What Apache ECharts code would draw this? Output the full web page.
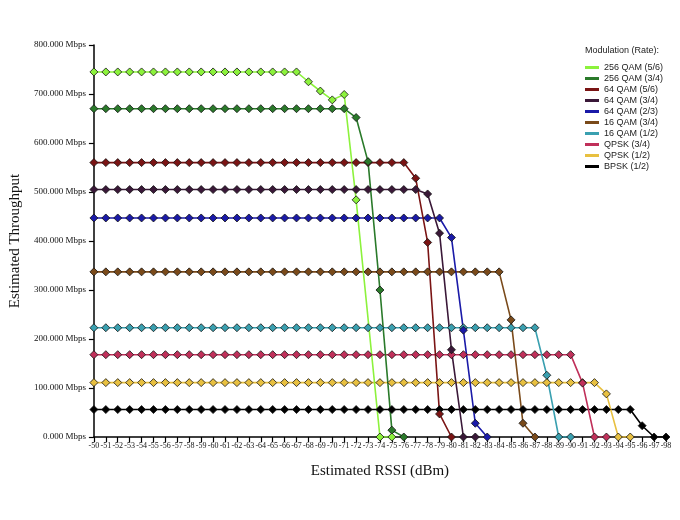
<!DOCTYPE html>
<html>
<head>
<meta charset="utf-8">
<script src="https://cdn.jsdelivr.net/npm/echarts@6/dist/echarts.min.js"></script>
<style>html,body{margin:0;padding:0;background:#fff}#c{width:680px;height:520px}</style>
</head>
<body>
<div id="c"></div>
<script>
// RSSI categories -50 .. -98
var rssi = [];
for (var r = -50; r >= -98; r--) rssi.push(String(r));

function flat(v, n) { var a = []; for (var i = 0; i < n; i++) a.push(v); return a; }

// throughput (Mbps) per modulation, index 0 = -50 dBm
var qam256_56 = flat(745, 18).concat([725, 706, 688, 699, 484, null, 0, 0]);
var qam256_34 = flat(670, 22).concat([652, 562, 300, 14, 0]);
var qam64_56 = flat(560, 27).concat([528, 397, 47, 0]);
var qam64_34 = flat(505, 28).concat([496, 416, 178, 0, 0]);
var qam64_23 = flat(447, 30).concat([407, 218, 28, 0]);
var qam16_34 = flat(337, 35).concat([239, 28, 0]);
var qam16_12 = flat(223, 38).concat([126, 0, 0]);
var qpsk_34 = flat(168, 41).concat([110, 0, 0]);
var qpsk_12 = flat(111, 43).concat([88, 0, 0]);
var bpsk_12 = flat(56, 46).concat([23, 0, 0]);

var names = ['256 QAM (5/6)', '256 QAM (3/4)', '64 QAM (5/6)', '64 QAM (3/4)', '64 QAM (2/3)',
  '16 QAM (3/4)', '16 QAM (1/2)', 'QPSK (3/4)', 'QPSK (1/2)', 'BPSK (1/2)'];
var values = [qam256_56, qam256_34, qam64_56, qam64_34, qam64_23, qam16_34, qam16_12, qpsk_34, qpsk_12, bpsk_12];
var colors = ['#8cf23c', '#2a7a2a', '#7a1414', '#3a1838', '#1a1aa8', '#7a4a1a', '#3aa0b0', '#c0305a', '#e8c040', '#000000'];

var chart = echarts.init(document.getElementById('c'));
var serif = '"Liberation Serif", "DejaVu Serif", serif';
chart.setOption({
  animation: false,
  color: colors,
  grid: { left: 91, right: 14, top: 45, bottom: 83 },
  legend: {
    orient: 'vertical', right: 12, top: 58, itemWidth: 14, itemHeight: 3, itemGap: 2,
    icon: 'rect', data: names,
    itemStyle: { borderWidth: 0 },
    textStyle: { fontFamily: 'Arial, "Liberation Sans"', fontSize: 9, color: '#222' }
  },
  graphic: [{ type: 'text', right: 21, top: 46, style: { text: 'Modulation (Rate):', font: '9px Arial, "Liberation Sans"', fill: '#222' } }],
  xAxis: {
    type: 'category', data: rssi, boundaryGap: false,
    name: 'Estimated RSSI (dBm)', nameLocation: 'middle', nameGap: 27,
    nameTextStyle: { fontFamily: serif, fontSize: 15, color: '#111' },
    axisLine: { lineStyle: { color: '#000', width: 1.5 } },
    axisTick: { interval: 0, length: 5, lineStyle: { color: '#000', width: 1.2 } },
    axisLabel: { interval: 0, fontFamily: serif, fontSize: 8, color: '#111', margin: 5 }
  },
  yAxis: {
    type: 'value', min: 0, max: 800, interval: 100,
    name: 'Estimated Throughput', nameLocation: 'middle', nameGap: 68,
    nameTextStyle: { fontFamily: serif, fontSize: 15, color: '#111' },
    axisLine: { show: true, lineStyle: { color: '#000', width: 1.5 } },
    axisTick: { show: true, length: 5, lineStyle: { color: '#000', width: 1.2 } },
    splitLine: { show: false },
    axisLabel: { fontFamily: serif, fontSize: 9, color: '#111', formatter: function (v) { return v.toFixed(3) + ' Mbps'; } }
  },
  series: values.map(function (d, i) {
    return {
      name: names[i], type: 'line', data: d, connectNulls: true,
      symbol: 'diamond', symbolSize: 8, showSymbol: true,
      lineStyle: { width: 1.6, color: colors[i] },
      itemStyle: { color: colors[i], borderColor: '#111', borderWidth: 0.8 }
    };
  }).reverse()
});
</script>
</body>
</html>
